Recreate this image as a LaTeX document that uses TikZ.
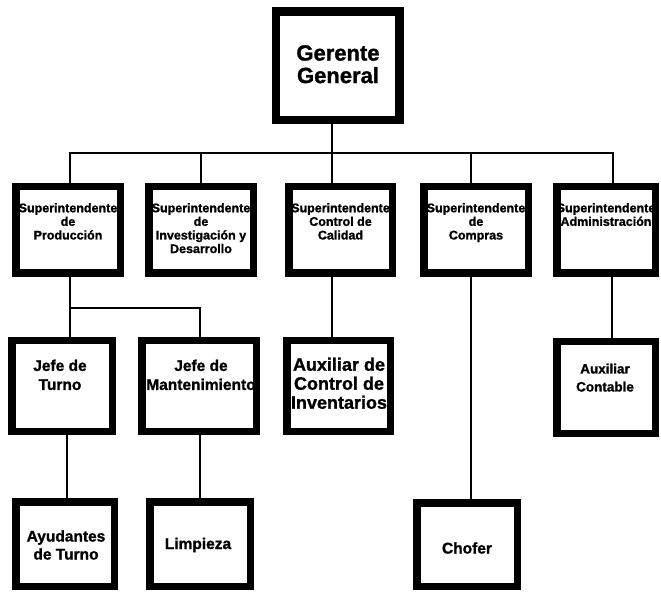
\documentclass[tikz,border=0pt]{standalone}
\usepackage{fontspec}
\setmainfont{Liberation Sans}[BoldFeatures={FakeBold=1.2}]
\usetikzlibrary{calc}

\tikzset{
  box/.style={draw=black, line width=7.5pt, fill=white, inner sep=0pt},
  bigbox/.style={box, line width=8.5pt},
  wire/.style={draw=black, line width=1.5pt},
  txt/.style={align=center, inner sep=0pt, anchor=north, text=black},
  ftop/.style={font=\fontsize{22}{22.5}\bfseries\selectfont},
  fsup/.style={font=\fontsize{12.5}{13.6}\bfseries\selectfont},
  fjefe/.style={font=\fontsize{15.5}{19}\bfseries\selectfont},
  faux/.style={font=\fontsize{18}{19}\bfseries\selectfont},
  fcont/.style={font=\fontsize{13.5}{18}\bfseries\selectfont},
  fhelp/.style={font=\fontsize{15.5}{18}\bfseries\selectfont},
}

% box helper: name, centre x, centre y, outer width, outer height, style
\newcommand{\orgbox}[6]{%
  \node[#6, minimum width=#4pt-7.5pt, minimum height=#5pt-7.5pt] (#1) at (#2,#3) {};}

\begin{document}
\begin{tikzpicture}[x=1pt, y=-1pt]
  \useasboundingbox (0,0) rectangle (661,593);

  % ---- boxes ----
  \orgbox{gg}{337.5}{66}{131}{116}{bigbox}
  \orgbox{p1}{68}{230}{112}{94}{box}
  \orgbox{p2}{201}{230}{112}{94}{box}
  \orgbox{p3}{340.5}{230}{111}{94}{box}
  \orgbox{p4}{476}{230}{112}{94}{box}
  \orgbox{p5}{606}{230}{106}{94}{box}
  \orgbox{j1}{62}{386}{108}{98}{box}
  \orgbox{j2}{199}{386}{122}{98}{box}
  \orgbox{a1}{338.5}{386}{111}{98}{box}
  \orgbox{a2}{606}{387.5}{106}{99}{box}
  \orgbox{h1}{65}{544}{106}{92}{box}
  \orgbox{h2}{200}{544}{108}{92}{box}
  \orgbox{ch}{467}{544.5}{108}{91}{box}

  % ---- attachment points of the connectors ----
  \coordinate (bus) at (0,153);
  \coordinate (split) at (0,308);
  \coordinate (ggS) at ($(gg.south)+(-5.5,0)$);
  \coordinate (p1N) at ($(p1.north)+(2,0)$);
  \coordinate (p1S) at ($(p1.south)+(2,0)$);
  \coordinate (p3N) at ($(p3.north)+(-8.5,0)$);
  \coordinate (p3S) at ($(p3.south)+(-8.5,0)$);
  \coordinate (p4N) at ($(p4.north)+(-5,0)$);
  \coordinate (p4S) at ($(p4.south)+(-5,0)$);
  \coordinate (p5N) at ($(p5.north)+(7,0)$);
  \coordinate (p5S) at ($(p5.south)+(6,0)$);
  \coordinate (j1N) at ($(j1.north)+(8,0)$);
  \coordinate (j1S) at ($(j1.south)+(5,0)$);
  \coordinate (j2N) at ($(j2.north)+(1,0)$);
  \coordinate (j2S) at ($(j2.south)+(1,0)$);
  \coordinate (h1N) at ($(h1.north)+(2,0)$);
  \coordinate (a1N) at ($(a1.north)+(-6.5,0)$);
  \coordinate (a2N) at ($(a2.north)+(6,0)$);
  \coordinate (chN) at ($(ch.north)+(4,0)$);

  % ---- connectors ----
  \draw[wire] (ggS) -- (ggS |- bus);
  \draw[wire] (p1N) -- (p1N |- bus) -- (p5N |- bus) -- (p5N);
  \draw[wire] (p2.north) -- (p2.north |- bus);
  \draw[wire] (p3N) -- (p3N |- bus);
  \draw[wire] (p4N) -- (p4N |- bus);

  \draw[wire] (p1S) -- (j1N);
  \draw[wire] (p1S |- split) -- (j2N |- split) -- (j2N);
  \draw[wire] (j1S) -- (h1N);
  \draw[wire] (j2S) -- (h2.north);
  \draw[wire] (p3S) -- (a1N);
  \draw[wire] (p4S) -- (chN);
  \draw[wire] (p5S) -- (a2N);

  % ---- labels ----
  \node[txt, ftop] (ggt) at (338,45) {Gerente\\General};

  \node[txt, fsup] (p1t) at (68,203) {Superintendente\\de\\Producción};
  \node[txt, fsup] (p2t) at (201,203) {Superintendente\\de\\Investigación y\\Desarrollo};
  \node[txt, fsup] (p3t) at (340.5,203) {Superintendente\\Control de\\Calidad};
  \node[txt, fsup] (p4t) at (476,203) {Superintendente\\de\\Compras};
  \node[txt, fsup] (p5t) at (606,203) {Superintendente\\Administración};

  \node[txt, fjefe] (j1t) at (60,359.5) {Jefe de\\Turno};
  \node[txt, fjefe] (j2t) at (201,359.5) {Jefe de\\Mantenimiento};
  \node[txt, faux] (a1t) at (339,357.5) {Auxiliar de\\Control de\\Inventarios};
  \node[txt, fcont] (a2t) at (605,363.5) {Auxiliar\\Contable};

  \node[txt, fhelp, anchor=center] (h1t) at (66,545) {Ayudantes\\de Turno};
  \node[txt, fhelp, anchor=center] (h2t) at (198,545) {Limpieza};
  \node[txt, fhelp, anchor=center] (cht) at (467,548) {Chofer};
\end{tikzpicture}
\end{document}
